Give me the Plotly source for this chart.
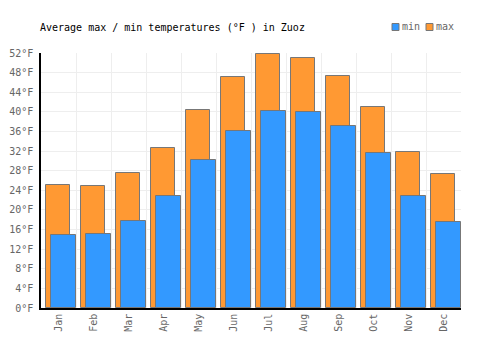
import plotly.graph_objects as go

months = ["Jan", "Feb", "Mar", "Apr", "May", "Jun", "Jul", "Aug", "Sep", "Oct", "Nov", "Dec"]
t_min = [14.8, 15.0, 17.7, 22.8, 30.2, 36.1, 40.2, 40.0, 37.1, 31.6, 22.8, 17.5]
t_max = [25.0, 24.8, 27.5, 32.6, 40.4, 47.1, 51.8, 51.0, 47.3, 41.0, 31.8, 27.3]
y_ticks = list(range(0, 53, 4))
legend_names = ["min", "max"]

FONT = "DejaVu Sans Mono"
ORANGE = "#ff9933"
BLUE = "#3399ff"
EDGE = "#777777"
W, H = 500, 350

x = list(range(len(months)))

fig = go.Figure()
fig.add_trace(go.Bar(x=x, y=t_max, name="max", marker=dict(color=ORANGE, line=dict(color=EDGE, width=1)),
                     width=0.67, offset=-0.35, showlegend=False))
fig.add_trace(go.Bar(x=x, y=t_min, name="min", marker=dict(color=BLUE, line=dict(color=EDGE, width=1)),
                     width=0.70, offset=-0.21, showlegend=False))

# custom legend (pixel positions in paper/container terms)
leg_colors = [BLUE, ORANGE]
leg_x = [392, 426]
shapes = []
annotations = []
for name, col, lx in zip(legend_names, leg_colors, leg_x):
    shapes.append(dict(type="rect", xref="paper", yref="paper",
                       x0=(lx - 41) / 420, x1=(lx + 7 - 41) / 420,
                       y0=(308 - 30.5) / 255, y1=(308 - 23.5) / 255,
                       fillcolor=col, line=dict(color=EDGE, width=1)))
    annotations.append(dict(text=name, xref="paper", yref="paper", x=(lx + 8 - 41) / 420,
                            y=(308 - 27) / 255, xanchor="left", yanchor="middle", showarrow=False,
                            font=dict(family=FONT, size=10, color="#666666")))

fig.update_layout(
    width=W, height=H,
    margin=dict(l=41, r=39, t=42, b=42, autoexpand=False),
    barmode="overlay",
    showlegend=False,
    plot_bgcolor="white", paper_bgcolor="white",
    font=dict(family=FONT, size=10, color="#666666"),
    title=dict(text="Average max / min temperatures (°F ) in Zuoz", x=40 / W, xref="container", xanchor="left",
               y=1 - 27 / H, yref="container", yanchor="middle", automargin=False,
               font=dict(family=FONT, size=10, color="#000000")),
    shapes=shapes,
    annotations=annotations,
    bargap=0,
)
fig.update_xaxes(
    range=[-0.5, 11.5], tickmode="array", tickvals=x, ticktext=months, tickangle=-90,
    showgrid=False, showline=True, linecolor="#000000", linewidth=1.5, zeroline=False,
    minor=dict(tickmode="linear", tick0=-0.5, dtick=1, showgrid=True, gridcolor="#eeeeee", gridwidth=1, ticks=""),
    tickfont=dict(family=FONT, size=10, color="#666666"), automargin=False,
)
fig.update_yaxes(
    range=[0, 52], tickmode="array", tickvals=y_ticks, ticktext=[f"{v}°F" for v in y_ticks],
    showgrid=True, gridcolor="#eeeeee", gridwidth=1, showline=True, linecolor="#000000", linewidth=1.5,
    zeroline=False, tickfont=dict(family=FONT, size=10, color="#666666"), ticklabelstandoff=4,
    automargin=False, domain=[0, 1],
)
# plot height should be 255 px: top at 53
fig.update_layout(margin=dict(t=53))

fig.write_html("out.html")
